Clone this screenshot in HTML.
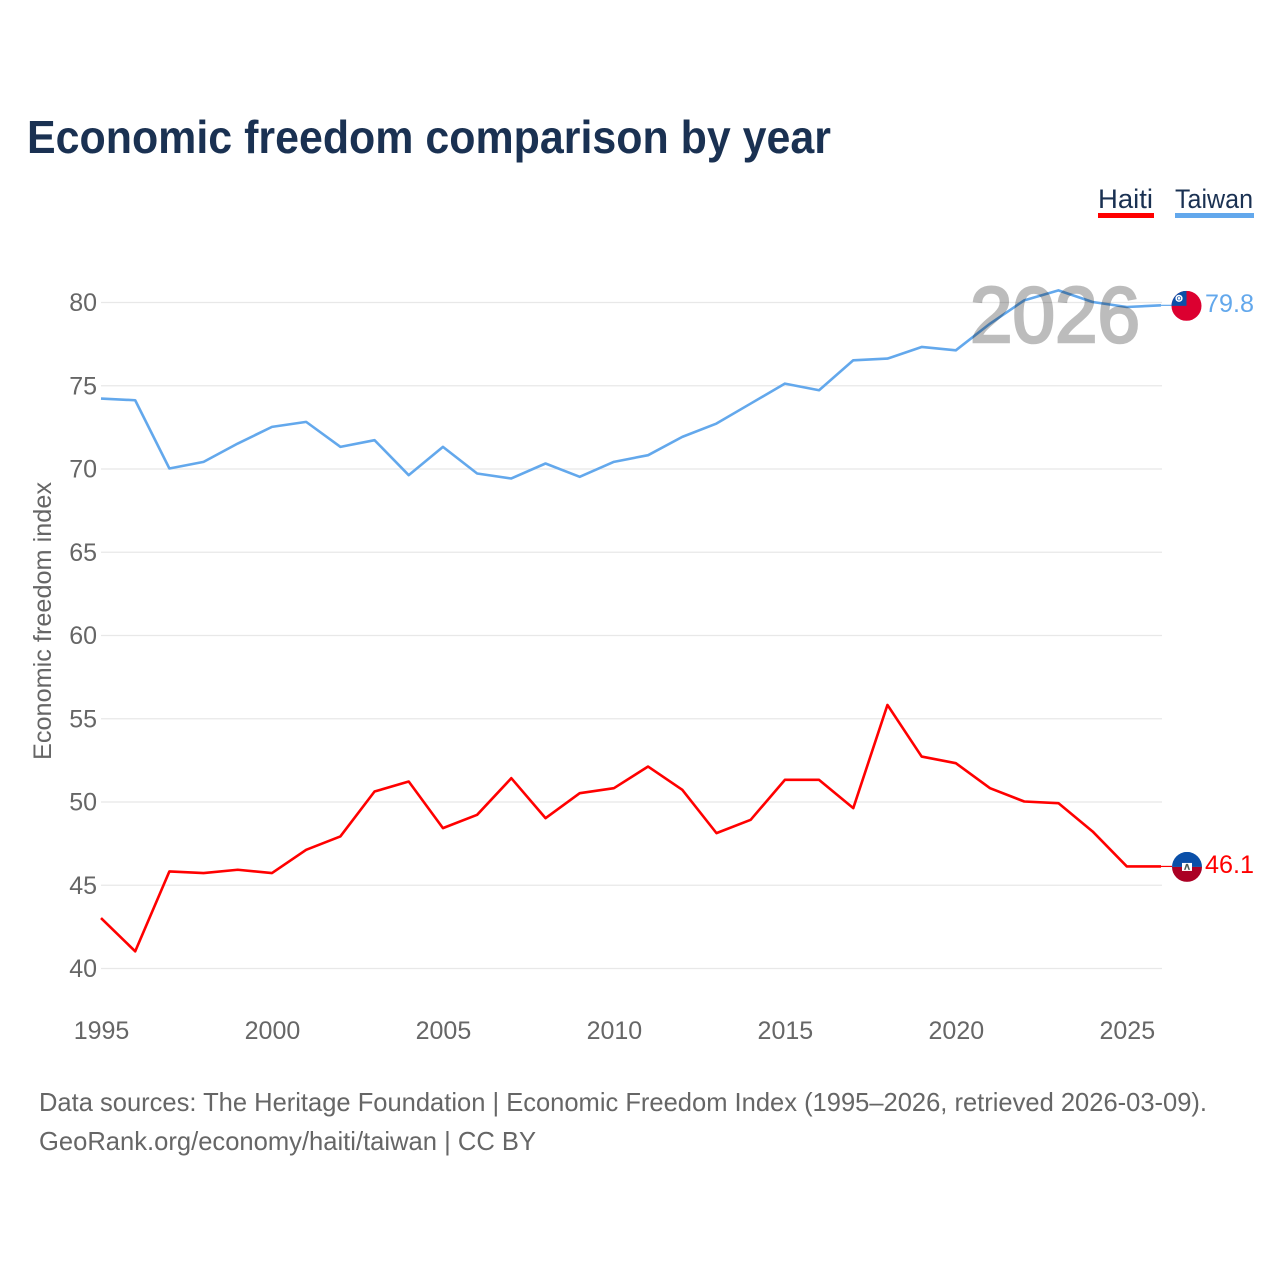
<!DOCTYPE html>
<html lang="en">
<head>
<meta charset="utf-8">
<title>Economic freedom comparison by year</title>
<style>
html,body{margin:0;padding:0;background:#fff;width:1280px;height:1280px;overflow:hidden}
svg{display:block;font-family:"Liberation Sans",sans-serif}
</style>
</head>
<body>
<svg id="chart" xmlns="http://www.w3.org/2000/svg" width="1280" height="1280" viewBox="0 0 1280 1280">
  <rect x="0" y="0" width="1280" height="1280" fill="#ffffff"/>
  <text x="27" y="153" font-size="46" font-weight="700" fill="#1a3152" textLength="804" lengthAdjust="spacingAndGlyphs">Economic freedom comparison by year</text>
  <g>
    <text x="1098" y="208" font-size="27" fill="#1a3152" textLength="55" lengthAdjust="spacingAndGlyphs">Haiti</text>
    <rect x="1098" y="213" width="56" height="5" fill="#ff0000"/>
  </g>
  <g>
    <text x="1175" y="208" font-size="27" fill="#1a3152" textLength="78" lengthAdjust="spacingAndGlyphs">Taiwan</text>
    <rect x="1175" y="213" width="79" height="5" fill="#63a8ec"/>
  </g>
  <text transform="translate(51,760) rotate(-90)" font-size="25" fill="#666666" textLength="278" lengthAdjust="spacingAndGlyphs">Economic freedom index</text>
  <g id="grid"></g>
  <g id="yticks"></g>
  <g id="xticks"></g>
  <g id="series"></g>
  <text x="970" y="342" font-size="79" font-weight="400" fill="#000000" stroke="#000000" stroke-width="2.6" opacity="0.26" textLength="170" lengthAdjust="spacingAndGlyphs">2026</text>
  <defs>
    <clipPath id="clip-taiwan"><circle id="clip-taiwan-circle" r="15"/></clipPath>
    <clipPath id="clip-haiti"><circle id="clip-haiti-circle" r="15"/></clipPath>
  </defs>
  <g id="flag-taiwan">
    <g clip-path="url(#clip-taiwan)">
      <rect x="-15" y="-15" width="30" height="30" fill="#dc0030"/>
      <rect x="-15" y="-15" width="15" height="15" fill="#0a4fa8"/>
      <circle cx="-7.5" cy="-7.5" r="3.6" fill="#ffffff"/>
      <circle cx="-7.5" cy="-7.5" r="2" fill="#0a4fa8"/>
      <circle cx="-7.5" cy="-7.5" r="1.3" fill="#ffffff"/>
    </g>
  </g>
  <g id="flag-haiti">
    <g clip-path="url(#clip-haiti)">
      <rect x="-15" y="-15" width="30" height="15" fill="#0a4fa8"/>
      <rect x="-15" y="0" width="30" height="15" fill="#ab0024"/>
      <rect x="-5" y="-4" width="10" height="8" fill="#ffffff"/>
      <path d="M-3 3 L-1 -3 L1 -3 L3 3 L1.4 3 L0 -1 L-1.4 3 Z" fill="#4d5f5a"/>
    </g>
  </g>
  <text id="value-taiwan" x="1205" font-size="25" fill="#63a8ec" textLength="49" lengthAdjust="spacingAndGlyphs"></text>
  <text id="value-haiti" x="1205" font-size="25" fill="#ff0000" textLength="49" lengthAdjust="spacingAndGlyphs"></text>
  <text x="39" y="1111" font-size="26" fill="#666666" textLength="1168" lengthAdjust="spacingAndGlyphs">Data sources: The Heritage Foundation | Economic Freedom Index (1995–2026, retrieved 2026-03-09).</text>
  <text x="39" y="1150" font-size="26" fill="#666666" textLength="497" lengthAdjust="spacingAndGlyphs">GeoRank.org/economy/haiti/taiwan | CC BY</text>
</svg>
<script>
const years = [1995,1996,1997,1998,1999,2000,2001,2002,2003,2004,2005,2006,2007,2008,2009,2010,2011,2012,2013,2014,2015,2016,2017,2018,2019,2020,2021,2022,2023,2024,2025,2026];
const taiwanValues = [74.2,74.1,70.0,70.4,71.5,72.5,72.8,71.3,71.7,69.6,71.3,69.7,69.4,70.3,69.5,70.4,70.8,71.9,72.7,73.9,75.1,74.7,76.5,76.6,77.3,77.1,78.7,80.1,80.7,80.0,79.7,79.8];
const haitiValues = [43.0,41.0,45.8,45.7,45.9,45.7,47.1,47.9,50.6,51.2,48.4,49.2,51.4,49.0,50.5,50.8,52.1,50.7,48.1,48.9,51.3,51.3,49.6,55.8,52.7,52.3,50.8,50.0,49.9,48.2,46.1,46.1];
const yTickLabels = [40,45,50,55,60,65,70,75,80];
const xTickLabels = [1995,2000,2005,2010,2015,2020,2025];

const SVG_NS = 'http://www.w3.org/2000/svg';
function xScale(year) {
  return 101 + (year - 1995) * (1161 - 101) / (2026 - 1995);
}
function yScale(value) {
  return 968 - (value - 40) * (968 - 302) / (80 - 40);
}
function make(tag, parent, attrs) {
  const el = document.createElementNS(SVG_NS, tag);
  for (const key in attrs) el.setAttribute(key, attrs[key]);
  parent.appendChild(el);
  return el;
}

const grid = document.getElementById('grid');
const yticks = document.getElementById('yticks');
yTickLabels.forEach(function (tick) {
  const line = make('line', grid, {x1: 101, x2: 1162, y1: yScale(tick) + 0.5, y2: yScale(tick) + 0.5, stroke: '#e8e8e8', 'stroke-width': 1.3});
  
  
  const label = make('text', yticks, {x: 97, y: yScale(tick) + 9, 'font-size': 25, fill: '#666666', 'text-anchor': 'end'});
  
  
  label.textContent = String(tick);
});

const xticks = document.getElementById('xticks');
xTickLabels.forEach(function (tick) {
  const label = make('text', xticks, {x: xScale(tick) + 0.5, y: 1039, 'font-size': 25, fill: '#666666', 'text-anchor': 'middle'});
  
  
  label.textContent = String(tick);
});

const seriesGroup = document.getElementById('series');
function points(values) {
  return values.map(function (v, i) {
    return xScale(years[i]).toFixed(2) + ',' + yScale(v).toFixed(2);
  }).join(' ');
}
function lastOf(values) {
  return values[values.length - 1];
}

const haitiLine = make('polyline', seriesGroup, {points: points(haitiValues), fill: 'none', stroke: '#ff0000', 'stroke-width': 2.6, 'stroke-linejoin': 'round'});


const taiwanLine = make('polyline', seriesGroup, {points: points(taiwanValues), fill: 'none', stroke: '#63a8ec', 'stroke-width': 2.6, 'stroke-linejoin': 'round'});



const haitiLeader = make('line', seriesGroup, {x1: xScale(2026), x2: 1172, y1: yScale(lastOf(haitiValues)), y2: yScale(lastOf(haitiValues)), stroke: '#ff0000', 'stroke-width': 1.2});


const taiwanLeader = make('line', seriesGroup, {x1: xScale(2026), x2: 1172, y1: yScale(lastOf(taiwanValues)), y2: yScale(lastOf(taiwanValues)), stroke: '#63a8ec', 'stroke-width': 1.2});



function placeEnd(name, values, cx, labelOffset) {
  const y = yScale(lastOf(values)) + 0.5;
  document.getElementById('flag-' + name).setAttribute('transform', 'translate(' + cx + ',' + y + ')');
  const circle = document.getElementById('clip-' + name + '-circle');
  circle.setAttribute('cx', 0);
  circle.setAttribute('cy', 0);
  const label = document.getElementById('value-' + name);
  label.setAttribute('y', y + labelOffset);
  label.textContent = lastOf(values).toFixed(1);
}
placeEnd('taiwan', taiwanValues, 1186.5, 6);
placeEnd('haiti', haitiValues, 1187, 6);
</script>
</body>
</html>
